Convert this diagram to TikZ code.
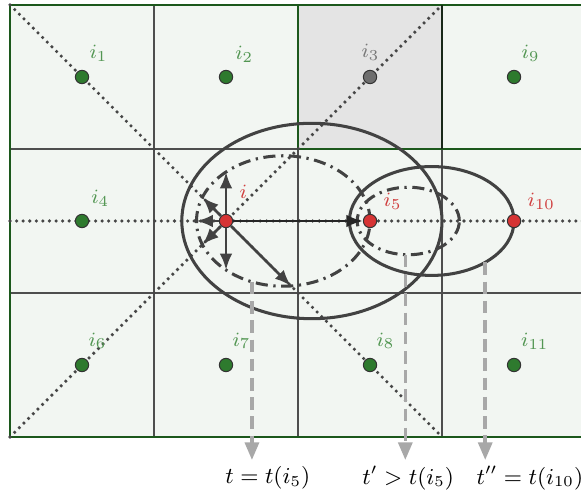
\documentclass[tikz,border=0pt]{standalone}
\usepackage{tikz}
\usetikzlibrary{arrows.meta,calc}
\usepackage{amsmath}

\definecolor{cellfill}{RGB}{242,246,242}
\definecolor{blockfill}{RGB}{228,228,228}
\definecolor{bordergreen}{RGB}{28,88,28}
\definecolor{blockedge}{RGB}{25,40,25}
\definecolor{gridgray}{RGB}{78,78,78}
\definecolor{dotgray}{RGB}{70,70,70}
\definecolor{reachgray}{RGB}{66,66,66}
\definecolor{tgray}{RGB}{168,168,168}
\definecolor{nodegreen}{RGB}{46,122,46}
\definecolor{nodered}{RGB}{214,52,52}
\definecolor{nodegray}{RGB}{110,110,110}
\definecolor{lblgreen}{RGB}{82,150,82}
\definecolor{lblred}{RGB}{208,62,62}
\definecolor{lblgray}{RGB}{120,120,120}

\begin{document}
\begin{tikzpicture}[
    label distance=2.5pt,
    gridline/.style={draw=gridgray, line width=0.8pt},
    border/.style={draw=bordergreen, line width=0.9pt},
    dotline/.style={draw=dotgray, line width=1.4pt, line cap=round, dash pattern=on 0pt off 2.6pt},
    reach/.style={draw=reachgray, line width=1.2pt},
    reachdd/.style={reach, dash pattern=on 4.8pt off 2.2pt on 0.9pt off 2.2pt},
    cellpt/.style={circle, draw=black!80, line width=0.4pt, minimum size=0.185cm, inner sep=0pt},
    lblg/.style={font=\footnotesize, text=lblgreen, inner sep=1pt},
    lblr/.style={font=\footnotesize, text=lblred, inner sep=1pt},
    vel/.style={draw=reachgray, line width=1.1pt, -{Latex[length=6.5pt,width=5pt]}},
    tarrow/.style={draw=tgray, line width=1.4pt, dash pattern=on 5pt off 2.6pt,
        -{Triangle[length=7pt,width=5.5pt,fill=tgray]}},
    tlabel/.style={font=\small, inner sep=1pt}
]
\clip (-0.139,-0.792) rectangle (7.93,6.069);

\fill[cellfill] (0,0) rectangle (8,6);
\fill[blockfill] (4,4) rectangle (6,6);
\foreach \x in {2,4,6} \draw[gridline] (\x,0) -- (\x,6);
\foreach \y in {2,4} \draw[gridline] (0,\y) -- (8,\y);
\draw[border] (8,0) -- (0,0) -- (0,6) -- (8,6);
\draw[border] (4,6) -- (4,4) -- (8,4);
\draw[draw=blockedge, line width=0.9pt] (6,4) -- (6,6);

\draw[dotline] (0,6) -- (6,0);
\draw[dotline] (0,0) -- (6,6);
\draw[dotline] (0,3) -- (8,3);

\draw[reach] (4.193,3) ellipse [x radius=1.807, y radius=1.357];
\draw[reachdd] (3.795,3) ellipse [x radius=1.205, y radius=0.906];
\draw[reach] (5.857,3) ellipse [x radius=1.143, y radius=0.756];
\draw[reachdd] (5.531,3) ellipse [x radius=0.709, y radius=0.469];

\coordinate (t1s) at (3.36,2.155);
\coordinate (t1e) at (3.36,-0.32);
\coordinate (t2s) at (5.49,2.53);
\coordinate (t2e) at (5.49,-0.32);
\coordinate (t3s) at (6.6,2.426);
\coordinate (t3e) at (6.6,-0.32);
\draw[tarrow] (t1s) -- (t1e);
\draw[tarrow] (t2s) -- (t2e);
\draw[tarrow] (t3s) -- (t3e);
\node[tlabel] (tl1) at (3.58,-0.57) {$t = t(i_5)$};
\node[tlabel] (tl2) at (5.53,-0.57) {$t' > t(i_5)$};
\node[tlabel] (tl3) at (7.22,-0.57) {$t'' = t(i_{10})$};

\node[cellpt, fill=nodegreen, label={[lblg]70:$i_1$}] (i1) at (1,5) {};
\node[cellpt, fill=nodegreen, label={[lblg]62:$i_2$}] (i2) at (3,5) {};
\node[cellpt, fill=nodegray, label={[lblg, text=lblgray]88:$i_3$}] (i3) at (5,5) {};
\node[cellpt, fill=nodegreen, label={[lblg]70:$i_9$}] (i9) at (7,5) {};
\node[cellpt, fill=nodegreen, label={[lblg]62:$i_4$}] (i4) at (1,3) {};
\node[cellpt, fill=nodered, label={[lblr, label distance=6pt]62:$i$}] (i) at (3,3) {};
\node[cellpt, fill=nodered, label={[lblr]38:$i_5$}] (i5) at (5,3) {};
\node[cellpt, fill=nodered, label={[lblr]38:$i_{10}$}] (i10) at (7,3) {};
\node[cellpt, fill=nodegreen, label={[lblg]75:$i_6$}] (i6) at (1,1) {};
\node[cellpt, fill=nodegreen, label={[lblg]75:$i_7$}] (i7) at (3,1) {};
\node[cellpt, fill=nodegreen, label={[lblg]75:$i_8$}] (i8) at (5,1) {};
\node[cellpt, fill=nodegreen, label={[lblg]72:$i_{11}$}] (i11) at (7,1) {};

\foreach \ang in {90,135,180,225,270,-45}
    \draw[vel] (i) -- ($(i)+(\ang:{0.681/(1-0.66*cos(\ang))})$);
\draw[vel, draw=black!85] (i) -- (i5);
\end{tikzpicture}
\end{document}
